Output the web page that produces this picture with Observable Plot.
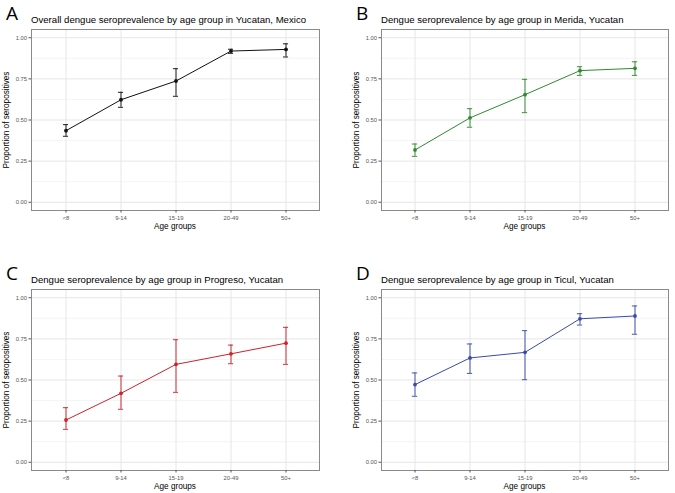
<!DOCTYPE html>
<html><head><meta charset="utf-8">
<script src="https://cdn.jsdelivr.net/npm/d3@7"></script>
<script src="https://cdn.jsdelivr.net/npm/@observablehq/plot@0.6"></script>
<style>
html,body{margin:0;padding:0;background:#fff;overflow:hidden}
#root{position:relative;width:675px;height:493px;font-family:"Liberation Sans",Arial,sans-serif}
.abs{position:absolute;white-space:nowrap}
.letter{font-family:"Open Sans",sans-serif;font-size:19px;line-height:1}
.title{font-size:9.6px;line-height:1;color:#000;transform:translateY(-50%)}
.xlab{font-size:8.2px;line-height:1;color:#000;transform:translate(-50%,-50%)}
.ylab{font-size:8.2px;line-height:1;color:#000;transform:translate(-50%,-50%) rotate(-90deg)}
svg{position:absolute}
</style></head><body><div id="root"></div>
<script>
const ageGroups = ["<8", "9-14", "15-19", "20-49", "50+"];
const yTicks = [0, 0.25, 0.5, 0.75, 1];
const yMinorTicks = [0.125, 0.375, 0.625, 0.875];

const letters = ["A", "B", "C", "D"];
const titles = [
  "Overall dengue seroprevalence by age group in Yucatan, Mexico",
  "Dengue seroprevalence by age group in Merida, Yucatan",
  "Dengue seroprevalence by age group in Progreso, Yucatan",
  "Dengue seroprevalence by age group in Ticul, Yucatan"
];
const colors = ["#111111", "#2f8a2f", "#cc2229", "#3a4aa8"];

const yucatanP  = [0.435, 0.623, 0.737, 0.919, 0.929];
const yucatanLo = [0.401, 0.577, 0.644, 0.905, 0.883];
const yucatanHi = [0.472, 0.668, 0.812, 0.930, 0.963];

const meridaP  = [0.318, 0.513, 0.654, 0.800, 0.814];
const meridaLo = [0.279, 0.456, 0.545, 0.771, 0.771];
const meridaHi = [0.354, 0.569, 0.747, 0.824, 0.854];

const progresoP  = [0.257, 0.419, 0.595, 0.659, 0.724];
const progresoLo = [0.200, 0.322, 0.425, 0.599, 0.595];
const progresoHi = [0.332, 0.524, 0.745, 0.712, 0.820];

const ticulP  = [0.472, 0.634, 0.668, 0.872, 0.889];
const ticulLo = [0.401, 0.540, 0.502, 0.834, 0.778];
const ticulHi = [0.543, 0.719, 0.800, 0.903, 0.950];

const xTitle = "Age groups";
const yTitle = "Proportion of seropositives";

const series = [
  [yucatanP, yucatanLo, yucatanHi],
  [meridaP, meridaLo, meridaHi],
  [progresoP, progresoLo, progresoHi],
  [ticulP, ticulLo, ticulHi]
];
// layout: svg left, svg top, svg width, marginRight
const layout = [
  {left: 0, top: 24, width: 337, mr: 18},
  {left: 350, top: 24, width: 325, mr: 7},
  {left: 0, top: 284, width: 337, mr: 18},
  {left: 350, top: 284, width: 325, mr: 7}
];
const H = 200, MT = 5, MB = 14, ML = 31;

const root = document.getElementById("root");
function addDiv(cls, text, x, y) {
  const d = document.createElement("div");
  d.className = "abs " + cls;
  d.textContent = text;
  d.style.left = x + "px";
  d.style.top = y + "px";
  root.appendChild(d);
}

series.forEach(([p, lo, hi], i) => {
  const L = layout[i];
  const color = colors[i];
  const rows = ageGroups.map((age, j) => ({age, p: p[j], lo: lo[j], hi: hi[j]}));
  const frameW = L.width - ML - L.mr;
  const band = frameW / 5.2;
  const capInset = (band - 5.5) / 2;
  const chart = Plot.plot({
    width: L.width, height: H,
    marginLeft: ML, marginRight: L.mr, marginTop: MT, marginBottom: MB,
    style: {fontFamily: "Liberation Sans, Arial, sans-serif", fontSize: "5.8px", color: "#555", background: "transparent", overflow: "visible"},
    x: {type: "band", domain: ageGroups, paddingInner: 0, paddingOuter: 0.1},
    y: {domain: [-0.05, 1.05]},
    marks: [
      Plot.gridY(yMinorTicks, {stroke: "#ececec", strokeOpacity: 1, strokeWidth: 0.6}),
      Plot.gridY(yTicks, {stroke: "#e6e6e6", strokeOpacity: 1, strokeWidth: 1}),
      Plot.gridX({stroke: "#e6e6e6", strokeOpacity: 1, strokeWidth: 1}),
      Plot.frame({stroke: "#8a8a8a"}),
      Plot.axisY(yTicks, {tickFormat: d3.format(".2f"), tickSize: 2.5, tickPadding: 2, label: null, fill: "#555"}),
      Plot.axisX({tickSize: 2.5, tickPadding: 2.5, label: null, fill: "#555"}),
      Plot.ruleX(rows, {x: "age", y1: "lo", y2: "hi", stroke: color, strokeWidth: 1.1, strokeOpacity: 0.85}),
      Plot.tickY(rows, {x: "age", y: "lo", stroke: color, strokeWidth: 1.1, strokeOpacity: 0.85, insetLeft: capInset, insetRight: capInset}),
      Plot.tickY(rows, {x: "age", y: "hi", stroke: color, strokeWidth: 1.1, strokeOpacity: 0.85, insetLeft: capInset, insetRight: capInset}),
      Plot.line(rows, {x: "age", y: "p", stroke: color, strokeWidth: 1}),
      Plot.dot(rows, {x: "age", y: "p", fill: color, r: 1.9})
    ]
  });
  chart.style.left = L.left + "px";
  chart.style.top = L.top + "px";
  root.appendChild(chart);

  const frameL = L.left + ML;
  const frameR = L.left + L.width - L.mr;
  const frameT = L.top + MT;
  const frameB = L.top + H - MB;
  addDiv("letter", letters[i], L.left + 6, L.top - 20);
  addDiv("title", titles[i], frameL, L.top - 4);
  addDiv("xlab", xTitle, (frameL + frameR) / 2, frameB + 17);
  addDiv("ylab", yTitle, frameL - 24, (frameT + frameB) / 2);
});
</script>
</body></html>
